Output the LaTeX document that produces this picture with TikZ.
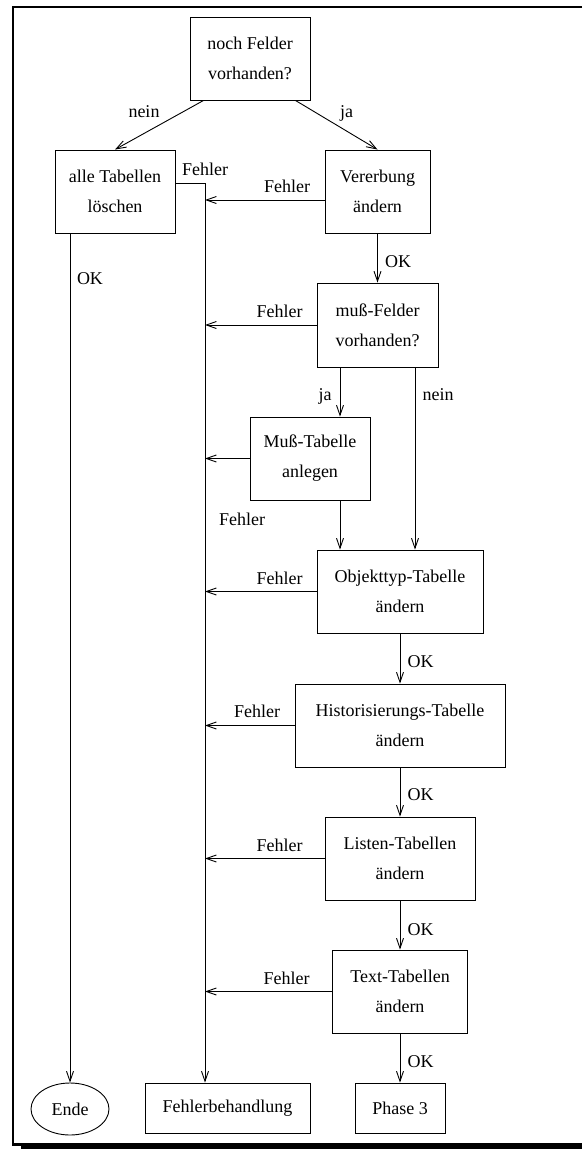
\documentclass[tikz,border=0pt]{standalone}
\usepackage{fontspec}
\setmainfont{Liberation Serif}
\usetikzlibrary{arrows.meta,shapes.geometric,calc}
\begin{document}
\begin{tikzpicture}[x=1pt,y=-1pt,
  box/.style={draw, line width=0.9pt, inner sep=0pt, align=center, font=\fontsize{18}{30}\selectfont},
  lbl/.style={inner sep=0pt, anchor=base, font=\fontsize{18}{30}\selectfont},
  arr/.style={line width=0.9pt, -{Straight Barb[length=10pt,width=7pt]}},
  ln/.style={line width=0.9pt},
  frameline/.style={line width=2.3pt, line join=miter}]

\useasboundingbox (0,0) rectangle (582,1149);

% frame
\draw[frameline] (582,7.2) -- (12.7,7.2) -- (12.7,1144.5) -- (582,1144.5);
\draw[line width=2.7pt] (21,1147.3) -- (582,1147.3);

% nodes
\node[box, minimum width=120pt, minimum height=83pt] (q1) at (250,58.5) {noch Felder\\vorhanden?};
\node[box, minimum width=120pt, minimum height=83pt] (alle) at (115,191.5) {alle Tabellen\\löschen};
\node[box, minimum width=105pt, minimum height=83pt] (ver) at (377.5,191.5) {Vererbung\\ändern};
\node[box, minimum width=121pt, minimum height=84pt] (mf) at (377.5,325) {muß-Felder\\vorhanden?};
\node[box, minimum width=120pt, minimum height=83pt] (mt) at (310,458.5) {Muß-Tabelle\\anlegen};
\node[box, minimum width=166pt, minimum height=83pt] (obj) at (400,591.5) {Objekttyp-Tabelle\\ändern};
\node[box, minimum width=210pt, minimum height=83pt] (hist) at (400,725.5) {Historisierungs-Tabelle\\ändern};
\node[box, minimum width=150pt, minimum height=83pt] (list) at (400,858.5) {Listen-Tabellen\\ändern};
\node[box, minimum width=135pt, minimum height=83pt] (txt) at (400,991.5) {Text-Tabellen\\ändern};
\node[box, minimum width=90pt, minimum height=50pt] (ph3) at (400,1108) {Phase 3};
\node[box, minimum width=165pt, minimum height=50pt] (fb) at (227.5,1108) {Fehlerbehandlung};
\node[box, ellipse, minimum width=78pt, minimum height=52pt] (ende) at (70,1109) {Ende};

% helper coordinates
\coordinate (bus) at (205,183);
\coordinate (jaX) at (340,0);
\coordinate (neinX) at (415,0);
\coordinate (q1a) at ($(q1.south west)+(14,0)$);
\coordinate (q1b) at ($(q1.south east)+(-15,0)$);
\coordinate (alleE) at ($(alle.east)+(0,-8.5)$);
\coordinate (verW) at ($(ver.west)+(0,8.5)$);

% connectors
\draw[arr] (q1a) -- (alle.north);
\draw[arr] (q1b) -- (ver.north);
\draw[ln] (alleE) -- (bus);
\draw[arr] (bus) -- (bus |- fb.north);
\draw[arr] (alle.south -| ende.north) -- (ende.north);

\draw[arr] (verW) -- (verW -| bus);
\draw[arr] (mf.west) -- (mf.west -| bus);
\draw[arr] (mt.west) -- (mt.west -| bus);
\draw[arr] (obj.west) -- (obj.west -| bus);
\draw[arr] (hist.west) -- (hist.west -| bus);
\draw[arr] (list.west) -- (list.west -| bus);
\draw[arr] (txt.west) -- (txt.west -| bus);

\draw[arr] (ver.south) -- (mf.north);
\draw[arr] (mf.south -| jaX) -- (mt.north -| jaX);
\draw[arr] (mt.south -| jaX) -- (obj.north -| jaX);
\draw[arr] (mf.south -| neinX) -- (obj.north -| neinX);
\draw[arr] (obj.south) -- (hist.north);
\draw[arr] (hist.south) -- (list.north);
\draw[arr] (list.south) -- (txt.north);
\draw[arr] (txt.south) -- (ph3.north);

% labels
\node[lbl] (l1) at (144,117.3) {nein};
\node[lbl] (l2) at (346.5,117.3) {ja};
\node[lbl] (l3) at (205,175) {Fehler};
\node[lbl] (l4) at (287,192.3) {Fehler};
\node[lbl] (l5) at (398,267.3) {OK};
\node[lbl] (l6) at (90,284) {OK};
\node[lbl] (l7) at (279.5,317) {Fehler};
\node[lbl] (l8) at (325,400) {ja};
\node[lbl] (l9) at (438,400) {nein};
\node[lbl] (l10) at (242,525) {Fehler};
\node[lbl] (l11) at (279.5,584) {Fehler};
\node[lbl] (l12) at (420.5,667) {OK};
\node[lbl] (l13) at (257,717) {Fehler};
\node[lbl] (l14) at (420.5,800) {OK};
\node[lbl] (l15) at (279.5,851) {Fehler};
\node[lbl] (l16) at (420.5,935) {OK};
\node[lbl] (l17) at (286.7,984) {Fehler};
\node[lbl] (l18) at (420.5,1067) {OK};
\end{tikzpicture}
\end{document}
